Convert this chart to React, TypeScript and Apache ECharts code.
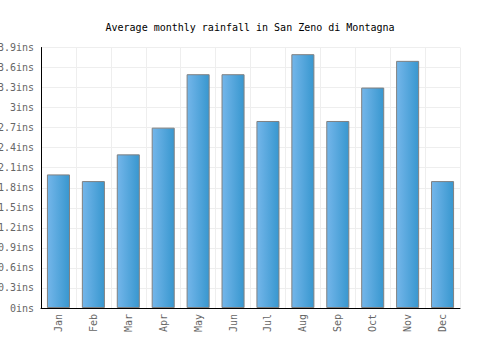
import React, { useEffect, useRef } from "react";
import * as echarts from "echarts";

const months = ["Jan", "Feb", "Mar", "Apr", "May", "Jun", "Jul", "Aug", "Sep", "Oct", "Nov", "Dec"];
const rainfall = [2.0, 1.9, 2.3, 2.7, 3.5, 3.5, 2.8, 3.8, 2.8, 3.3, 3.7, 1.9];
const titleText = "Average monthly rainfall in San Zeno di Montagna";
const yMin = 0;
const yMax = 3.9;
const yStep = 0.3;

export default function App() {
  const ref = useRef<HTMLDivElement>(null);
  useEffect(() => {
    if (!ref.current) return;
    const chart = echarts.init(ref.current, null, { renderer: "svg" });
    const font = "'DejaVu Sans Mono', monospace";
    chart.setOption({
      animation: false,
      textStyle: { fontFamily: font },
      title: {
        text: titleText,
        left: "center",
        top: 17,
        textStyle: { fontFamily: font, fontSize: 10, fontWeight: "normal", color: "#000" },
      },
      grid: {
        left: 41,
        right: 40,
        top: 47.5,
        bottom: 42,
        containLabel: false,
        outerBoundsMode: "none",
      },
      xAxis: {
        type: "category",
        data: months,
        axisLine: { show: true, lineStyle: { color: "#000", width: 1 } },
        axisTick: { show: false },
        splitLine: { show: true, lineStyle: { color: "#eeeeee", width: 1 } },
        axisLabel: { rotate: 90, fontSize: 10, color: "#666", fontFamily: font, margin: 6 },
      },
      yAxis: {
        type: "value",
        min: yMin,
        max: yMax,
        interval: yStep,
        axisLine: { show: true, lineStyle: { color: "#000", width: 1 } },
        axisTick: { show: false },
        splitLine: { show: true, lineStyle: { color: "#eeeeee", width: 1 } },
        axisLabel: {
          fontSize: 10,
          color: "#666",
          fontFamily: font,
          margin: 7,
          formatter: (v: number) => `${Math.round(v * 10) / 10}ins`,
        },
      },
      series: [
        {
          type: "bar",
          data: rainfall,
          barCategoryGap: "34%",
          itemStyle: {
            color: new echarts.graphic.LinearGradient(0, 0, 1, 0, [
              { offset: 0, color: "#74b6ea" },
              { offset: 1, color: "#3897cf" },
            ]),
            borderColor: "#808080",
            borderWidth: 1,
          },
        },
      ],
    });
    return () => chart.dispose();
  }, []);
  return (
    <div
      ref={ref}
      style={{ position: "absolute", left: 0, top: 0, width: 500, height: 350 }}
    />
  );
}
